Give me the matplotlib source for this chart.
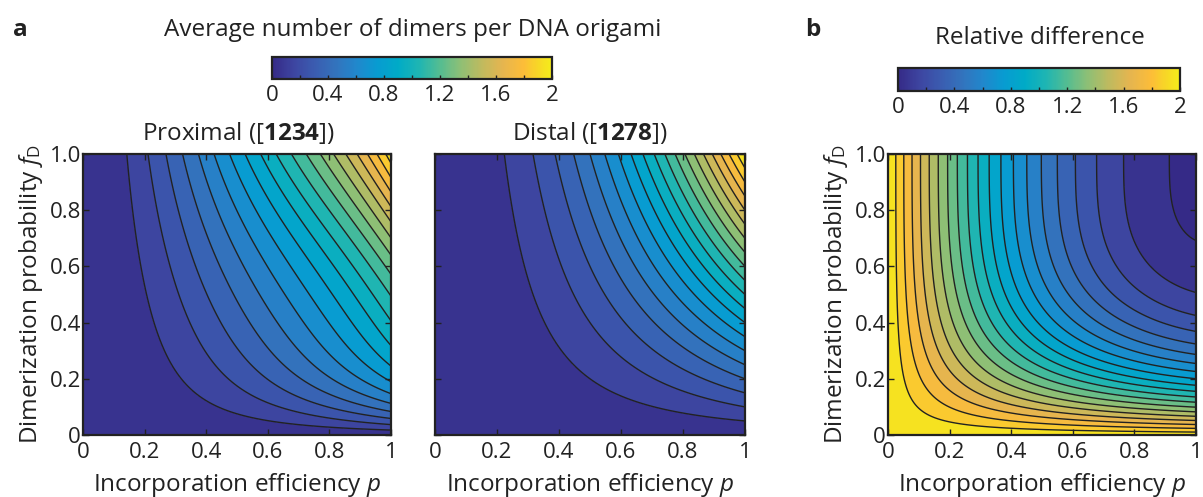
import numpy as np
import matplotlib.pyplot as plt
from matplotlib.colors import LinearSegmentedColormap
from math import comb

plt.rcParams["font.family"] = ["Open Sans", "DejaVu Sans"]
plt.rcParams["mathtext.fontset"] = "custom"
plt.rcParams["mathtext.rm"] = "Open Sans"
plt.rcParams["mathtext.it"] = "Open Sans:italic"
plt.rcParams["mathtext.bf"] = "Open Sans:bold"

# DATA
tick_pos = [0, 0.2, 0.4, 0.6, 0.8, 1.0]
x_ticklabels = ["0", "0.2", "0.4", "0.6", "0.8", "1"]
y_ticklabels = ["0", "0.2", "0.4", "0.6", "0.8", "1.0"]
levels = [0, 0.1, 0.2, 0.3, 0.4, 0.5, 0.6, 0.7, 0.8, 0.9, 1.0,
          1.1, 1.2, 1.3, 1.4, 1.5, 1.6, 1.7, 1.8, 1.9, 2.0]
cbar_ticks = [0, 0.4, 0.8, 1.2, 1.6, 2]
cbar_minor = [0.2, 0.6, 1.0, 1.4, 1.8]
panel_titles = [r"Proximal ([$\mathbf{1234}$])", r"Distal ([$\mathbf{1278}$])"]

n_sites = 4            # handles per set
designed_pairs = 2     # [12] + [34] or [12] + [78]
cross_pairs = 4        # only in the proximal set: 13, 14, 23, 24
block_exp = {3: 3, 4: 4}   # how strongly the other pairs block a cross dimer
designed_loss = 0.018  # small loss of designed dimers when all four are present

# parula-lignende farger, slik de ser ut i figuren
cmap_pos = [0.0, 0.075, 0.15, 0.225, 0.3, 0.375, 0.45, 0.525, 0.6,
            0.675, 0.75, 0.825, 0.9, 0.95, 1.0]
cmap_rgb = [(0.208, 0.166, 0.529), (0.24, 0.27, 0.63), (0.23, 0.36, 0.69),
            (0.20, 0.45, 0.74), (0.13, 0.53, 0.80), (0.03, 0.61, 0.82),
            (0.00, 0.67, 0.78), (0.12, 0.71, 0.70), (0.33, 0.74, 0.57),
            (0.56, 0.75, 0.46), (0.75, 0.73, 0.37), (0.90, 0.71, 0.31),
            (0.99, 0.74, 0.22), (0.97, 0.84, 0.15), (0.96, 0.93, 0.10)]
parula = LinearSegmentedColormap.from_list("parula", list(zip(cmap_pos, cmap_rgb)), N=256)

# MODELL
p = np.linspace(1e-4, 1, 500)
fd = np.linspace(1e-4, 1, 500)
P, F = np.meshgrid(p, fd)
Q = 1 - P

# forventet antall dimerer naar k av de fire handtakene er med
g = {2: F,
     3: F + 2 * F * (1 - F) ** block_exp[3],
     4: designed_pairs * F * (1 - designed_loss) + cross_pairs * F * (1 - F) ** block_exp[4]}
proximal = sum(comb(n_sites, k) * P ** k * Q ** (n_sites - k) * g[k] for k in (2, 3, 4))
distal = designed_pairs * P ** 2 * F
reldiff = (proximal - distal) / distal

# FIGUR
fig = plt.figure(figsize=(12.03, 4.97), dpi=100)
W, H = 1203, 497
txt = "#222222"
linecol = "#222222"


def box(x0, y0, x1, y1):
    return [x0 / W, 1 - y1 / H, (x1 - x0) / W, (y1 - y0) / H]


ax1 = fig.add_axes(box(83, 154, 391, 435))
ax2 = fig.add_axes(box(435, 154, 745, 435))
ax3 = fig.add_axes(box(888, 154, 1196, 435))

for ax, Z in ((ax1, proximal), (ax2, distal), (ax3, reldiff)):
    ax.contourf(P, F, Z, levels=levels, cmap=parula, vmin=0, vmax=2, extend="min")
    ax.contour(P, F, Z, levels=levels, colors=linecol, linewidths=1.0)
    ax.set_xlim(0, 1)
    ax.set_ylim(0, 1)
    ax.set_xticks(tick_pos)
    ax.set_xticklabels(x_ticklabels)
    ax.set_yticks(tick_pos)
    ax.tick_params(direction="in", top=True, right=True, length=4, width=1,
                   color=linecol, labelsize=16, labelcolor=txt)
    ax.tick_params(axis="x", pad=5)
    ax.tick_params(axis="y", pad=1.5)
    for s in ax.spines.values():
        s.set_linewidth(1.6)
        s.set_color(linecol)
    ax.set_xlabel(r"Incorporation efficiency $p$", fontsize=17.5, color=txt, labelpad=6)

for ax in (ax1, ax3):
    ax.set_yticklabels(y_ticklabels)
    ax.set_ylabel(r"Dimerization probability $f_{\mathrm{D}}$", fontsize=17.5,
                  color=txt, labelpad=3)
ax2.set_yticklabels([])

fig.text(238 / W, 1 - 133 / H, panel_titles[0], fontsize=17.5, color=txt, ha="center", va="center")
fig.text(590 / W, 1 - 133 / H, panel_titles[1], fontsize=17.5, color=txt, ha="center", va="center")

# fargeskala
for (x0, y0, x1, y1), title, tx, ty in (((272, 57, 552, 79), "Average number of dimers per DNA origami", 413, 30),
                                         ((898, 68, 1180, 91), "Relative difference", 1040, 38)):
    cax = fig.add_axes(box(x0, y0, x1, y1))
    cb = fig.colorbar(plt.cm.ScalarMappable(cmap=parula, norm=plt.Normalize(0, 2)),
                      cax=cax, orientation="horizontal", ticks=cbar_ticks)
    cb.set_ticklabels(["0", "0.4", "0.8", "1.2", "1.6", "2"])
    cax.xaxis.set_ticks(cbar_minor, minor=True)
    cax.tick_params(which="both", direction="in", length=3, width=1, color=linecol,
                    labelsize=16, labelcolor=txt, pad=4)
    cb.outline.set_linewidth(1.6)
    cb.outline.set_edgecolor(linecol)
    fig.text(tx / W, 1 - ty / H, title, fontsize=17.5, color=txt, ha="center", va="center")

fig.text(20 / W, 1 - 30 / H, "a", fontsize=17.5, fontweight="bold", color=txt, ha="center", va="center")
fig.text(813 / W, 1 - 30 / H, "b", fontsize=17.5, fontweight="bold", color=txt, ha="center", va="center")

fig.savefig("out.png", dpi=100)
